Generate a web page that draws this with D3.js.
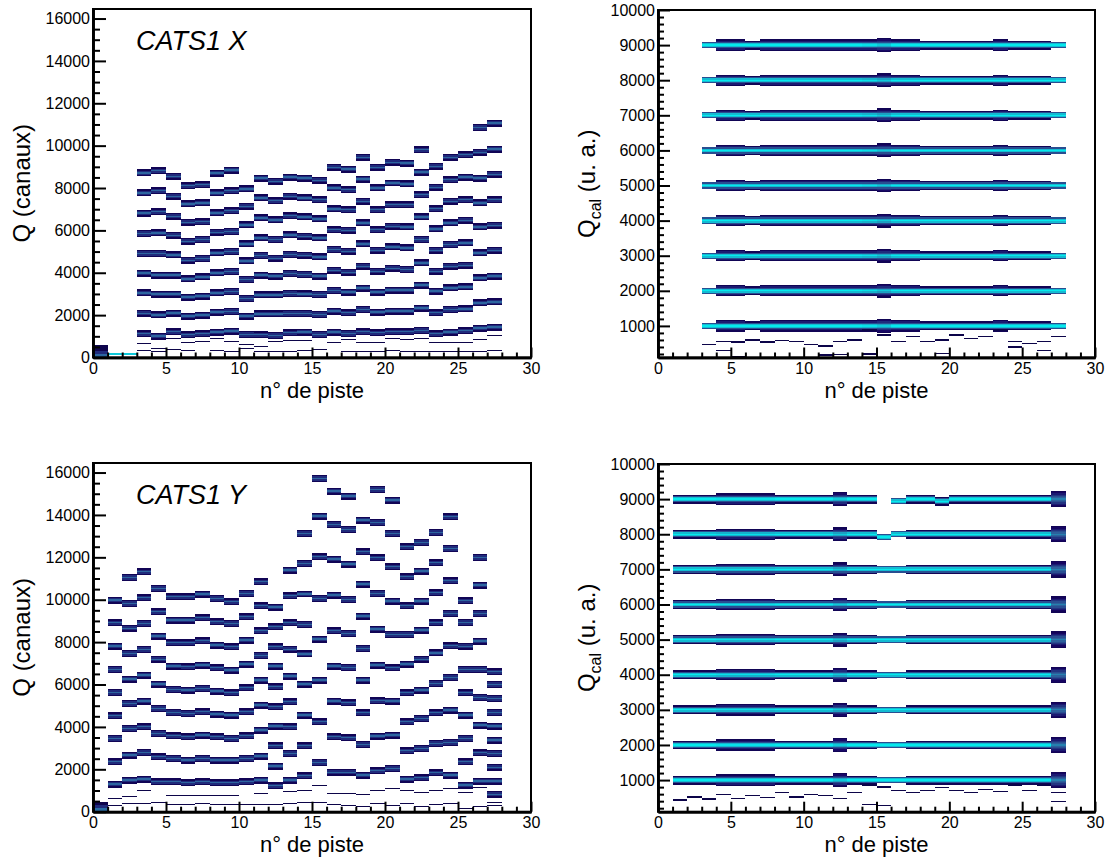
<!DOCTYPE html>
<html><head><meta charset="utf-8">
<script src="https://cdn.jsdelivr.net/npm/d3@7"></script>
<style>body{margin:0;background:#fff}svg text{font-family:"Liberation Sans",Arial,Helvetica,sans-serif}</style>
</head><body><svg id="c" width="1107" height="858"></svg>
<script>
// ---------------- DATA ----------------
const xTickValues = [0, 5, 10, 15, 20, 25, 30];
const yTicksRaw = [0, 2000, 4000, 6000, 8000, 10000, 12000, 14000, 16000];
const yTicksCal = [1000, 2000, 3000, 4000, 5000, 6000, 7000, 8000, 9000, 10000];

// CATS1 X : raw peak positions (canaux) per strip
const stripsX = [3,4,5,6,7,8,9,10,11,12,13,14,15,16,17,18,19,20,21,22,23,24,25,26,27];
const peaksX = [
  [8710,7770,6820,5850,4910,3980,3050,2090,1120],
  [8820,7875,6885,5880,4906,3885,2989,2015,1010],
  [8551,7608,6666,5770,4843,3885,2989,2094,1214],
  [8111,7247,6383,5487,4592,3712,2848,1953,1073],
  [8158,7294,6414,5566,4670,3806,2895,2000,1120],
  [8708,7766,6823,5911,4938,3995,3053,2141,1198],
  [8849,7875,6933,5943,5000,4058,3115,2172,1246],
  [7954,7137,6257,5361,4560,3681,2785,1953,1089],
  [8472,7530,6587,5644,4812,3885,2958,2062,1073],
  [8315,7404,6493,5566,4686,3838,2958,2062,1042],
  [8519,7608,6697,5786,4859,3963,3021,2078,1167],
  [8472,7530,6634,5723,4827,3916,3005,2078,1198],
  [8362,7451,6540,5644,4749,3838,2974,2031,1089],
  [8975,8001,7011,6037,5095,4120,3162,2188,1199],
  [8896,7922,6980,6006,5016,4026,3084,2110,1136],
  [9446,8425,7373,6351,5362,4309,3272,2267,1214],
  [8975,8001,6980,6037,5063,4073,3084,2141,1167],
  [9211,8237,7215,6194,5220,4215,3178,2188,1214],
  [9179,8190,7215,6163,5173,4152,3178,2188,1214],
  [9808,8755,7687,6634,5566,4466,3414,2330,1277],
  [9022,8032,7027,6069,5063,4073,3131,2110,1120],
  [9446,8394,7373,6351,5330,4309,3288,2267,1199],
  [9572,8519,7451,6477,5409,4356,3335,2298,1261],
  [10860,9682,8472,7294,6163,4938,3760,2581,1387],
  [11064,9839,8645,7451,6241,5063,3838,2628,1434]
];
const faintX = [[3,650],[4,410],[5,880],[6,730],[7,770],[8,880],[9,740],[10,620],[11,510],[12,740],[13,820],[14,790],[15,780],[16,730],[17,830],[18,730],[19,730],[20,900],[21,830],[22,900],[23,730],[24,730],[25,730],[26,860],[27,1050],
  [3,330],[4,300],[5,360],[6,330],[7,260],[8,330],[9,300],[10,420],[11,300],[12,280],[13,300],[14,320],[15,360],[16,260],[17,300],[18,280],[19,280],[20,350],[21,300],[22,280],[23,270],[24,300],[25,280],[26,300],[27,330]];

// CATS1 Y : raw peak positions per strip
const stripsY = [1,2,3,4,5,6,7,8,9,10,11,12,13,14,15,16,17,18,19,20,21,22,23,24,25,26,27];
const peaksY = [
  [9982,8914,7813,6711,5627,4526,3457,2357,1304],
  [11051,9825,8650,7467,6255,5108,3929,2671,1492],
  [11319,10092,8882,7656,6444,5218,4007,2797,1540],
  [10533,9432,8285,7190,6020,4872,3693,2593,1414],
  [10139,9039,7970,6868,5768,4683,3583,2514,1414],
  [10139,9039,7970,6837,5737,4636,3536,2435,1366],
  [10265,9149,8065,6916,5815,4715,3614,2514,1414],
  [10061,8961,7860,6790,5689,4605,3536,2435,1366],
  [9904,8882,7782,6680,5611,4558,3457,2435,1366],
  [10297,9196,8096,6963,5847,4715,3583,2514,1414],
  [10847,9715,8536,7370,6208,5029,3850,2624,1492],
  [9650,8725,7782,6868,5894,4951,4039,3111,2153,1225],
  [11397,10187,8914,7660,6397,5187,4007,2750,1492],
  [13126,11711,10270,8835,7440,6020,4558,3111,1700],
  [15720,13944,12026,10061,8143,6208,4243,2325],
  [15123,13551,11916,10218,8536,6868,5218,3536,1854],
  [14887,13315,11680,10014,8411,6806,5139,3489,1854],
  [13755,12262,10737,9228,7703,6208,4668,3174,1728],
  [15202,13645,11979,10297,8615,6916,5234,3567,1932],
  [14698,13126,11555,9936,8364,6790,5218,3614,2042],
  [12498,11083,9715,8364,6963,5611,4243,2876,1540],
  [12702,11350,9936,8567,7190,5737,4400,2986,1602],
  [13174,11743,10328,8914,7490,6051,4668,3221,1838],
  [13912,12419,10894,9354,7829,6334,4793,3269,1728],
  [9951,8930,7800,6711,5611,4558,3457,2357,1257],
  [11995,10690,9354,8049,6711,5391,4086,2781,1445],
  [6600,6004,5343,4683,4039,3379,2750,2090,1445,817]
];
const faintY = [[1,630],[2,710],[3,1020],[4,740],[5,780],[6,750],[7,780],[8,750],[9,750],[10,740],[11,870],[12,740],[13,940],[14,1020],[15,1250],[16,860],[17,860],[18,830],[19,1000],[20,1100],[21,1000],[22,900],[23,1000],[24,1100],[25,900],[26,1150],[27,450],
  [1,300],[2,400],[3,380],[4,420],[5,350],[6,360],[7,380],[8,330],[9,350],[10,360],[11,330],[12,360],[13,380],[14,420],[15,440],[16,330],[17,300],[18,260],[19,380],[20,310],[21,380],[22,250],[23,320],[24,380],[25,160],[26,230],[27,280]];

// pedestal / low-channel cells : [stripLo, stripHi, qLo, qHi, intensity]
const pedestalX = [[0,1,0,180,0.62],[0,1,180,330,0.45],[0,1,330,600,0.2],[1,3,100,190,0.9]];
const pedestalY = [[0,1,0,160,0.64],[0,1,160,300,0.45],[0,1,300,480,0.2]];

// Calibrated bands (u. a.)
const calBands = [1000,2000,3000,4000,5000,6000,7000,8000,9000];
const stripsXcal = [3,4,5,6,7,8,9,10,11,12,13,14,15,16,17,18,19,20,21,22,23,24,25,26,27];
const bandWidthXcal = [0.6,0.9,1.0,0.8,0.9,0.9,1.0,0.9,1.0,0.9,0.9,1.1,1.2,0.9,0.9,0.7,0.8,0.8,0.8,0.7,0.9,0.8,0.7,0.7,0.6];
const bandPeakXcal = [0.97,0.97,0.97,0.97,0.97,0.97,0.97,0.97,0.97,0.97,0.97,0.95,0.9,0.97,0.97,0.97,0.97,0.97,0.97,0.97,0.97,0.97,0.97,0.97,0.97];
const stripsYcal = [1,2,3,4,5,6,7,8,9,10,11,12,13,14,15,16,17,18,19,20,21,22,23,24,25,26,27];
const bandWidthYcal = [0.7,0.7,0.8,1.1,1.0,1.0,1.0,0.8,0.7,0.7,0.8,1.2,0.8,0.8,0.6,0.6,0.7,0.7,0.7,0.7,0.7,0.8,0.8,0.8,0.8,0.8,1.5];
const bandPeakYcal = [0.97,0.97,0.97,0.95,0.95,0.95,0.95,0.97,0.97,0.97,0.97,0.9,0.97,0.97,0.97,0.97,0.97,0.97,0.97,0.97,0.97,0.97,0.97,0.97,0.97,0.97,0.7];
// [strip, band, shift] ; shift null = missing
const bandShiftYcal = [[15,9000,null],[16,9000,-60],[19,9000,-60],[15,8000,-80]];
const faintXcal = [[3,470],[4,560],[5,540],[6,600],[7,540],[8,590],[9,560],[10,470],[11,430],[12,560],[13,600],[14,885],[15,742],[16,551],[17,694],[18,551],[19,599],[20,742],[21,647],[22,694],[23,885],[24,551],[25,505],[26,551],[27,694],
  [4,300],[5,130],[11,170],[12,190],[14,200],[19,220],[24,400],[26,300]];
const faintYcal = [[1,430],[2,520],[3,460],[4,600],[5,480],[6,560],[7,500],[8,640],[9,520],[10,600],[11,560],[12,480],[13,640],[14,860],[15,800],[16,700],[17,640],[18,700],[19,780],[20,700],[21,650],[22,740],[23,680],[24,860],[25,700],[26,860],[27,640],
  [14,300],[15,280],[27,400]];

// ---------------- DRAWING ----------------
const svg = d3.select("#c");
svg.append("rect").attr("width", 1107).attr("height", 858).attr("fill", "#fff");
const palette = d3.scaleLinear().domain([0, 0.34, 0.61, 0.84, 1])
  .range(["#00032b", "#170564", "#2e639e", "#17adc9", "#00f7f7"]).clamp(true);

const panels = [
  {x0: 93, x1: 531, y0: 9, y1: 357.5, dom: [0, 16450], kind: "raw", title: "CATS1 X", strips: stripsX, peaks: peaksX, faint: faintX, ped: pedestalX},
  {x0: 658, x1: 1095, y0: 10, y1: 357.5, dom: [100, 10000], kind: "cal", strips: stripsXcal, widths: bandWidthXcal, pk: bandPeakXcal, shifts: [], faint: faintXcal},
  {x0: 93, x1: 531, y0: 463, y1: 811.7, dom: [0, 16450], kind: "raw", title: "CATS1 Y", strips: stripsY, peaks: peaksY, faint: faintY, ped: pedestalY},
  {x0: 658, x1: 1095, y0: 464, y1: 811.7, dom: [100, 10000], kind: "cal", strips: stripsYcal, widths: bandWidthYcal, pk: bandPeakYcal, shifts: bandShiftYcal, faint: faintYcal}
];

const RAW_BIN = 66, rawProfile = [0.25, 0.45, 0.62, 0.45, 0.25];
const CAL_BIN = 36;

panels.forEach(p => {
  const xs = d3.scaleLinear().domain([0, 30]).range([p.x0, p.x1]);
  const ys = d3.scaleLinear().domain(p.dom).range([p.y1, p.y0]);
  const g = svg.append("g");
  const cells = [];
  if (p.kind === "raw") {
    p.ped.forEach(c => cells.push({a: c[0], b: c[1], lo: c[2], hi: c[3], t: c[4]}));
    p.peaks.forEach((arr, i) => {
      const s = p.strips[i];
      arr.forEach(v => rawProfile.forEach((t, k) => {
        const lo = v + (k - 2) * RAW_BIN - RAW_BIN / 2;
        cells.push({a: s, b: s + 1, lo: lo, hi: lo + RAW_BIN, t: t});
      }));
    });
    p.faint.forEach(f => cells.push({a: f[0], b: f[0] + 1, lo: f[1] - 22, hi: f[1] + 22, t: 0.18}));
  } else {
    p.strips.forEach((s, i) => {
      const w = p.widths[i], peak = p.pk[i];
      const n = Math.max(2, Math.round(4 * w));
      calBands.forEach(b => {
        const sh = p.shifts.find(d => d[0] === s && d[1] === b);
        if (sh && sh[2] === null) return;
        const c = b + (sh ? sh[2] : 0);
        for (let k = -n; k <= n; k++) {
          const a = Math.abs(k);
          let t;
          if (a === 0) t = peak; else if (a === 1) t = peak - 0.1;
          else t = 0.55 - 0.3 * (a - 2) / Math.max(1, n - 2);
          const lo = c + k * CAL_BIN - CAL_BIN / 2;
          cells.push({a: s, b: s + 1, lo: lo, hi: lo + CAL_BIN, t: t});
        }
      });
    });
    p.faint.forEach(f => cells.push({a: f[0], b: f[0] + 1, lo: f[1] - 18, hi: f[1] + 18, t: 0.18}));
  }
  g.append("g").attr("shape-rendering", "crispEdges").selectAll("rect").data(cells).join("rect")
    .attr("x", d => xs(d.a)).attr("width", d => xs(d.b) - xs(d.a))
    .attr("y", d => ys(Math.min(d.hi, p.dom[1]))).attr("height", d => Math.max(0.6, ys(Math.max(d.lo, p.dom[0])) - ys(Math.min(d.hi, p.dom[1]))))
    .attr("fill", d => palette(d.t));

  // frame
  g.append("rect").attr("x", p.x0).attr("y", p.y0).attr("width", p.x1 - p.x0).attr("height", p.y1 - p.y0)
    .attr("fill", "none").attr("stroke", "#000").attr("stroke-width", 2);

  const raw = p.kind === "raw";
  const yMaj = raw ? yTicksRaw : yTicksCal;
  const yMinStep = raw ? 500 : 200;
  const yMin = d3.range(Math.ceil(p.dom[0] / yMinStep) * yMinStep, p.dom[1] + 1, yMinStep).filter(v => !yMaj.includes(v));
  const xMin = d3.range(0, 31).filter(v => !xTickValues.includes(v));
  const yl = raw ? [13, 7] : [12, 6];
  const xl = [10, 5];

  const style = sel => {
    sel.attr("font-family", "Liberation Sans, Arial, sans-serif").attr("font-size", 16);
    sel.selectAll("line").attr("stroke", "#000").attr("stroke-width", 2);
    sel.selectAll("text").attr("fill", "#000");
    sel.select(".domain").attr("stroke", "#000").attr("stroke-width", 2.6);
  };
  g.append("g").attr("transform", `translate(0,${p.y1})`)
    .call(d3.axisBottom(xs).tickValues(xMin).tickSizeInner(-xl[1]).tickSizeOuter(0).tickFormat("")).call(style);
  g.append("g").attr("transform", `translate(0,${p.y1})`)
    .call(d3.axisBottom(xs).tickValues(xTickValues).tickSizeInner(-xl[0]).tickSizeOuter(0).tickPadding(5).tickFormat(d3.format("d"))).call(style);
  g.append("g").attr("transform", `translate(${p.x0},0)`)
    .call(d3.axisLeft(ys).tickValues(yMin).tickSizeInner(-yl[1]).tickSizeOuter(0).tickFormat("")).call(style);
  g.append("g").attr("transform", `translate(${p.x0},0)`)
    .call(d3.axisLeft(ys).tickValues(yMaj).tickSizeInner(-yl[0]).tickSizeOuter(0).tickPadding(3).tickFormat(d3.format("d"))).call(style);

  // x title
  g.append("text").attr("x", (p.x0 + p.x1) / 2).attr("y", p.y1 + 40).attr("text-anchor", "middle")
    .attr("font-size", 22).text("n\u00b0 de piste");
  // y title
  const cy = (p.y0 + p.y1) / 2;
  if (raw) {
    g.append("text").attr("transform", `translate(${p.x0 - 63},${cy}) rotate(-90)`).attr("text-anchor", "middle")
      .attr("font-size", 24).text("Q (canaux)");
    g.append("text").attr("x", 136).attr("y", p.y0 + 41).attr("font-size", 27).attr("font-style", "italic").text(p.title);
  } else {
    const t = g.append("text").attr("transform", `translate(${p.x0 - 63},${cy}) rotate(-90)`).attr("text-anchor", "middle").attr("font-size", 24);
    t.append("tspan").text("Q");
    t.append("tspan").attr("dy", 6).attr("font-size", 16).text("cal");
    t.append("tspan").attr("dy", -6).text(" (u. a.)");
  }
});
</script></body></html>
